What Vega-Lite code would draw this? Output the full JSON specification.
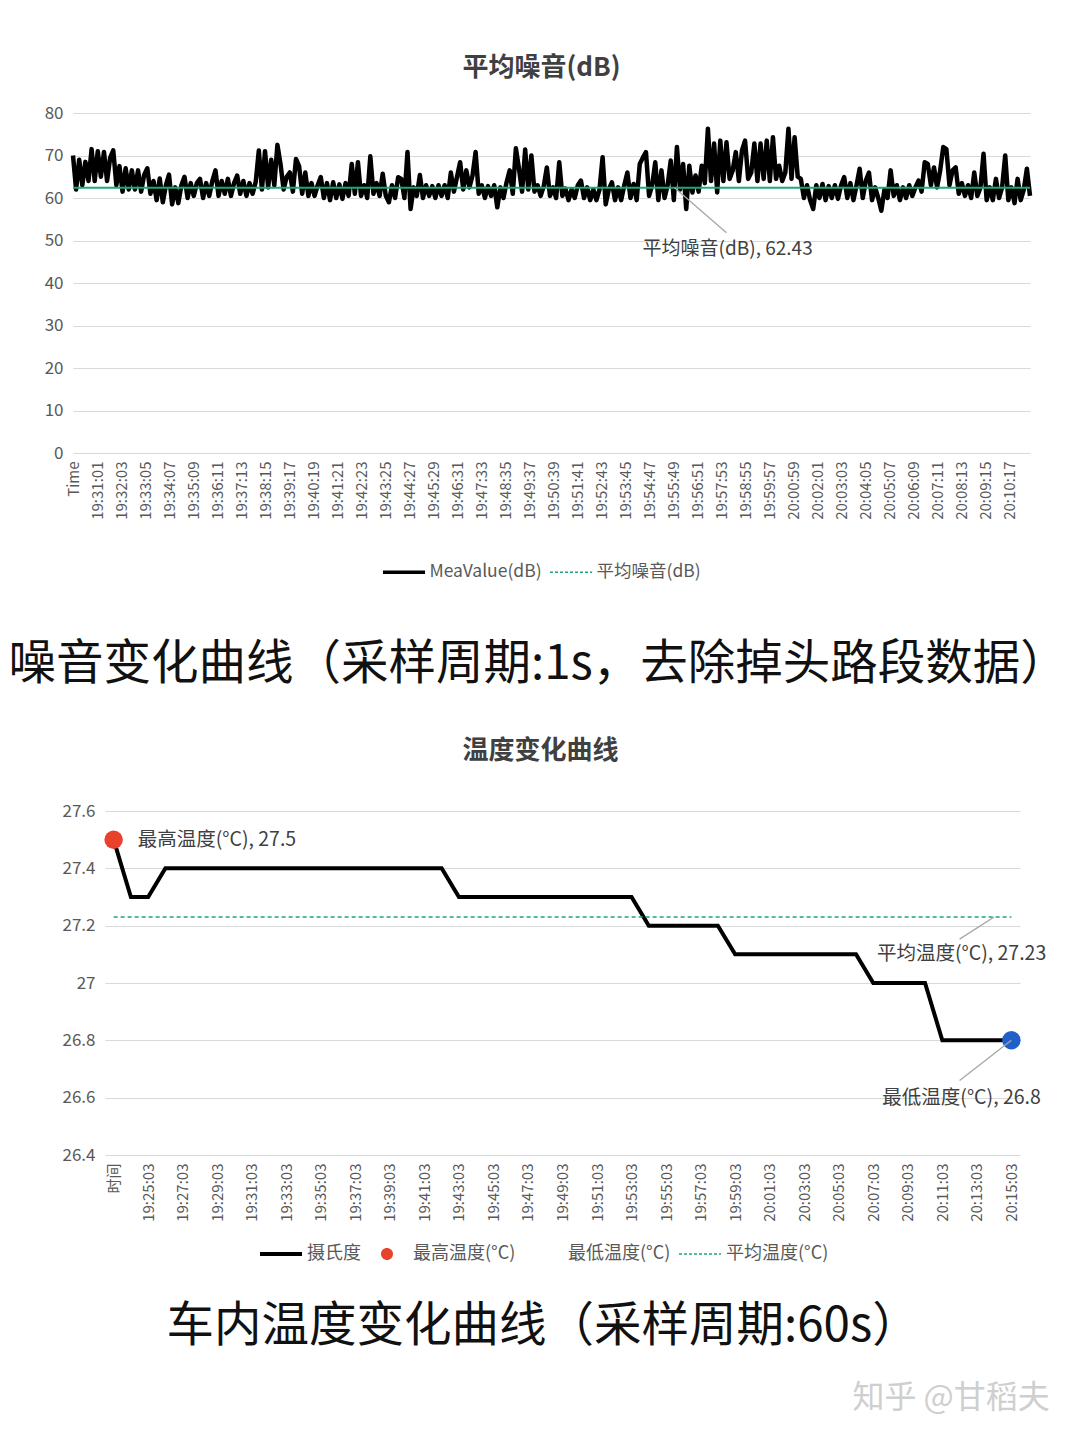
{
  "$schema": "https://vega.github.io/schema/vega-lite/v6.json",
  "background": "white",
  "padding": {"left": 8, "top": 55, "right": 10, "bottom": 10},
  "spacing": 49,
  "resolve": {"scale": {"color": "independent"}, "legend": {"color": "independent"}},
  "title": {"text": "知乎 @甘稻夫", "orient": "bottom", "anchor": "end", "fontSize": 32, "fontWeight": "normal", "color": "#cfcfcf", "offset": 32, "dx": -18},
  "datasets": {
    "noise": [
      {"s":0,"db":70},{"s":8,"db":62},{"s":16,"db":69},{"s":24,"db":63},{"s":32,"db":68.5},{"s":40,"db":64},{"s":48,"db":71.5},{"s":56,"db":64},{"s":64,"db":71},{"s":72,"db":65},
      {"s":80,"db":70.8},{"s":88,"db":64},{"s":96,"db":69.5},{"s":104,"db":71.2},{"s":112,"db":63},{"s":120,"db":67.5},{"s":128,"db":61.5},{"s":136,"db":67},{"s":144,"db":62},{"s":152,"db":66.5},
      {"s":160,"db":62},{"s":168,"db":66.5},{"s":176,"db":61.5},{"s":184,"db":65.5},{"s":192,"db":67},{"s":200,"db":61},{"s":208,"db":64},{"s":216,"db":59.5},{"s":224,"db":64.6},{"s":232,"db":59},
      {"s":240,"db":63},{"s":248,"db":65.5},{"s":256,"db":58.5},{"s":264,"db":62.5},{"s":272,"db":58.8},{"s":280,"db":63},{"s":288,"db":65},{"s":296,"db":60},{"s":304,"db":63.5},{"s":312,"db":60.5},
      {"s":320,"db":63.5},{"s":328,"db":64.5},{"s":336,"db":60},{"s":344,"db":63.5},{"s":352,"db":60.5},{"s":360,"db":64},{"s":368,"db":66.5},{"s":376,"db":60.5},{"s":384,"db":64},{"s":392,"db":61},
      {"s":400,"db":64.5},{"s":408,"db":60.5},{"s":416,"db":63.5},{"s":424,"db":65.3},{"s":432,"db":61},{"s":440,"db":64},{"s":448,"db":60.5},{"s":456,"db":63.5},{"s":464,"db":61},{"s":472,"db":63.8},
      {"s":480,"db":71.2},{"s":488,"db":62},{"s":496,"db":71},{"s":504,"db":62.5},{"s":512,"db":69},{"s":520,"db":63},{"s":528,"db":72.5},{"s":536,"db":68},{"s":544,"db":62},{"s":552,"db":65},
      {"s":560,"db":66},{"s":568,"db":61.5},{"s":576,"db":69.2},{"s":584,"db":67.5},{"s":592,"db":61},{"s":600,"db":66},{"s":608,"db":60.5},{"s":616,"db":63.5},{"s":624,"db":60.5},{"s":632,"db":63},
      {"s":640,"db":64.9},{"s":648,"db":60},{"s":656,"db":63.5},{"s":664,"db":59.5},{"s":672,"db":63.7},{"s":680,"db":60},{"s":688,"db":63.2},{"s":696,"db":59.8},{"s":704,"db":63.5},{"s":712,"db":60.5},
      {"s":720,"db":68},{"s":728,"db":61},{"s":736,"db":68.4},{"s":744,"db":60.5},{"s":752,"db":63},{"s":760,"db":60},{"s":768,"db":69.8},{"s":776,"db":61},{"s":784,"db":63.5},{"s":792,"db":60.5},
      {"s":800,"db":65.7},{"s":808,"db":60.5},{"s":816,"db":59},{"s":824,"db":63},{"s":832,"db":60},{"s":840,"db":64.9},{"s":848,"db":64.5},{"s":856,"db":60},{"s":864,"db":70.8},{"s":872,"db":57.4},
      {"s":880,"db":62.5},{"s":888,"db":60.5},{"s":896,"db":65.4},{"s":904,"db":60},{"s":912,"db":63},{"s":920,"db":60.5},{"s":928,"db":62.8},{"s":936,"db":60},{"s":944,"db":63},{"s":952,"db":60.5},
      {"s":960,"db":63},{"s":968,"db":60},{"s":976,"db":66},{"s":984,"db":61.5},{"s":992,"db":65},{"s":1000,"db":68.4},{"s":1008,"db":62},{"s":1016,"db":66.5},{"s":1024,"db":62.5},{"s":1032,"db":65.3},
      {"s":1040,"db":70.8},{"s":1048,"db":61},{"s":1056,"db":63},{"s":1064,"db":60},{"s":1072,"db":62.8},{"s":1080,"db":60.5},{"s":1088,"db":63},{"s":1096,"db":57.8},{"s":1104,"db":62.5},{"s":1112,"db":60},
      {"s":1120,"db":63.7},{"s":1128,"db":66.5},{"s":1136,"db":61},{"s":1144,"db":71.7},{"s":1152,"db":66.9},{"s":1160,"db":61.5},{"s":1168,"db":71.4},{"s":1176,"db":62},{"s":1184,"db":70},{"s":1192,"db":61.5},
      {"s":1200,"db":63},{"s":1208,"db":60.5},{"s":1216,"db":62.8},{"s":1224,"db":67.2},{"s":1232,"db":60.5},{"s":1240,"db":62.5},{"s":1248,"db":60},{"s":1256,"db":68.4},{"s":1264,"db":60.5},{"s":1272,"db":62.2},
      {"s":1280,"db":59.5},{"s":1288,"db":62},{"s":1296,"db":60},{"s":1304,"db":63},{"s":1312,"db":64.1},{"s":1320,"db":60},{"s":1328,"db":62.5},{"s":1336,"db":59.5},{"s":1344,"db":62},{"s":1352,"db":59.5},
      {"s":1360,"db":62},{"s":1368,"db":69.6},{"s":1376,"db":58.5},{"s":1384,"db":62},{"s":1392,"db":63.7},{"s":1400,"db":59.5},{"s":1408,"db":62.5},{"s":1416,"db":59.5},{"s":1424,"db":63},{"s":1432,"db":66},
      {"s":1440,"db":60},{"s":1448,"db":63.3},{"s":1456,"db":59.5},{"s":1464,"db":68},{"s":1472,"db":69.5},{"s":1480,"db":70.8},{"s":1488,"db":60.5},{"s":1496,"db":63},{"s":1504,"db":68.4},{"s":1512,"db":59.5},
      {"s":1520,"db":66.5},{"s":1528,"db":60},{"s":1536,"db":63},{"s":1544,"db":68.8},{"s":1552,"db":59.5},{"s":1560,"db":72},{"s":1568,"db":62},{"s":1576,"db":68},{"s":1584,"db":57.4},{"s":1592,"db":67.6},
      {"s":1600,"db":61.3},{"s":1608,"db":65.3},{"s":1616,"db":61.5},{"s":1624,"db":67.6},{"s":1632,"db":63.5},{"s":1640,"db":76.3},{"s":1648,"db":64},{"s":1656,"db":72.8},{"s":1664,"db":61.3},{"s":1672,"db":73.5},
      {"s":1680,"db":64},{"s":1688,"db":73.1},{"s":1696,"db":64.5},{"s":1704,"db":66.5},{"s":1712,"db":70.8},{"s":1720,"db":64},{"s":1728,"db":71.2},{"s":1736,"db":73.5},{"s":1744,"db":64.5},{"s":1752,"db":66},
      {"s":1760,"db":72.8},{"s":1768,"db":64},{"s":1776,"db":72.8},{"s":1784,"db":64.5},{"s":1792,"db":73.5},{"s":1800,"db":64},{"s":1808,"db":74.3},{"s":1816,"db":64.5},{"s":1824,"db":67.6},{"s":1832,"db":64},
      {"s":1840,"db":66},{"s":1848,"db":76.3},{"s":1856,"db":64.5},{"s":1864,"db":74.3},{"s":1872,"db":65},{"s":1880,"db":64.5},{"s":1888,"db":60},{"s":1896,"db":63},{"s":1904,"db":59.5},{"s":1912,"db":57.4},
      {"s":1920,"db":63},{"s":1928,"db":60},{"s":1936,"db":63.3},{"s":1944,"db":59.5},{"s":1952,"db":62.8},{"s":1960,"db":60},{"s":1968,"db":63},{"s":1976,"db":59.8},{"s":1984,"db":63},{"s":1992,"db":64.9},
      {"s":2000,"db":60},{"s":2008,"db":63.5},{"s":2016,"db":59.5},{"s":2024,"db":63},{"s":2032,"db":66.9},{"s":2040,"db":60},{"s":2048,"db":64.1},{"s":2056,"db":66},{"s":2064,"db":59.5},{"s":2072,"db":62.5},
      {"s":2080,"db":60},{"s":2088,"db":57},{"s":2096,"db":62},{"s":2104,"db":60},{"s":2112,"db":66.5},{"s":2120,"db":60.5},{"s":2128,"db":63},{"s":2136,"db":59.5},{"s":2144,"db":62.5},{"s":2152,"db":60},
      {"s":2160,"db":63},{"s":2168,"db":60.5},{"s":2176,"db":62.5},{"s":2184,"db":64.1},{"s":2192,"db":61.5},{"s":2200,"db":68.4},{"s":2208,"db":68},{"s":2216,"db":63},{"s":2224,"db":67.2},{"s":2232,"db":62.5},
      {"s":2240,"db":66.5},{"s":2248,"db":72},{"s":2256,"db":71.5},{"s":2264,"db":63},{"s":2272,"db":66.5},{"s":2280,"db":67.2},{"s":2288,"db":61},{"s":2296,"db":63.5},{"s":2304,"db":60.5},{"s":2312,"db":63},
      {"s":2320,"db":60},{"s":2328,"db":66},{"s":2336,"db":60.5},{"s":2344,"db":62.5},{"s":2352,"db":70.4},{"s":2360,"db":59.5},{"s":2368,"db":62.5},{"s":2376,"db":59.5},{"s":2384,"db":64.5},{"s":2392,"db":60},
      {"s":2400,"db":62.5},{"s":2408,"db":70},{"s":2416,"db":59.5},{"s":2424,"db":62.5},{"s":2432,"db":58.8},{"s":2440,"db":64.5},{"s":2448,"db":59.5},{"s":2456,"db":62},{"s":2464,"db":66.9},{"s":2472,"db":60.5}
    ],
    "temp": [
      {"time":"19:23:03","temp":27.5},{"time":"19:24:03","temp":27.3},{"time":"19:25:03","temp":27.3},{"time":"19:26:03","temp":27.4},
      {"time":"19:27:03","temp":27.4},{"time":"19:28:03","temp":27.4},{"time":"19:29:03","temp":27.4},{"time":"19:30:03","temp":27.4},
      {"time":"19:31:03","temp":27.4},{"time":"19:32:03","temp":27.4},{"time":"19:33:03","temp":27.4},{"time":"19:34:03","temp":27.4},
      {"time":"19:35:03","temp":27.4},{"time":"19:36:03","temp":27.4},{"time":"19:37:03","temp":27.4},{"time":"19:38:03","temp":27.4},
      {"time":"19:39:03","temp":27.4},{"time":"19:40:03","temp":27.4},{"time":"19:41:03","temp":27.4},{"time":"19:42:03","temp":27.4},
      {"time":"19:43:03","temp":27.3},{"time":"19:44:03","temp":27.3},{"time":"19:45:03","temp":27.3},{"time":"19:46:03","temp":27.3},
      {"time":"19:47:03","temp":27.3},{"time":"19:48:03","temp":27.3},{"time":"19:49:03","temp":27.3},{"time":"19:50:03","temp":27.3},
      {"time":"19:51:03","temp":27.3},{"time":"19:52:03","temp":27.3},{"time":"19:53:03","temp":27.3},{"time":"19:54:03","temp":27.2},
      {"time":"19:55:03","temp":27.2},{"time":"19:56:03","temp":27.2},{"time":"19:57:03","temp":27.2},{"time":"19:58:03","temp":27.2},
      {"time":"19:59:03","temp":27.1},{"time":"20:00:03","temp":27.1},{"time":"20:01:03","temp":27.1},{"time":"20:02:03","temp":27.1},
      {"time":"20:03:03","temp":27.1},{"time":"20:04:03","temp":27.1},{"time":"20:05:03","temp":27.1},{"time":"20:06:03","temp":27.1},
      {"time":"20:07:03","temp":27.0},{"time":"20:08:03","temp":27.0},{"time":"20:09:03","temp":27.0},{"time":"20:10:03","temp":27.0},
      {"time":"20:11:03","temp":26.8},{"time":"20:12:03","temp":26.8},{"time":"20:13:03","temp":26.8},{"time":"20:14:03","temp":26.8},
      {"time":"20:15:03","temp":26.8}
    ]
  },
  "config": {
    "font": "Noto Sans CJK SC",
    "view": {"stroke": null},
    "axis": {"labelColor": "#595959", "labelFont": "Noto Sans CJK SC", "domain": false, "ticks": false, "gridColor": "#d9d9d9", "gridWidth": 1.2},
    "axisX": {"grid": false, "labelAngle": -90, "labelFontSize": 15, "labelPadding": 8, "labelOverlap": false, "labelFlush": false, "labelBound": false},
    "axisY": {"grid": true, "labelFontSize": 17, "labelPadding": 10},
    "legend": {"orient": "none", "direction": "horizontal", "labelFontSize": 17.5, "labelColor": "#595959", "labelFont": "Noto Sans CJK SC", "symbolType": "stroke", "symbolSize": 1764, "symbolStrokeWidth": 3.5, "labelOffset": 29, "columnPadding": 5},
    "title": {"font": "Noto Sans CJK SC"}
  },
  "vconcat": [
    {
      "title": {"text": "噪音变化曲线（采样周期:1s，去除掉头路段数据）", "orient": "bottom", "anchor": "middle", "fontSize": 47.5, "fontWeight": "normal", "color": "#111111", "offset": 60},
      "vconcat": [
        {
          "title": {"text": "平均噪音(dB)", "fontSize": 26, "fontWeight": "bold", "color": "#404040", "offset": 23, "dx": -10},
          "width": 957,
          "height": 340,
          "layer": [
            {
              "data": {"name": "noise"},
              "mark": {"type": "line", "strokeWidth": 4.5, "strokeJoin": "round"},
              "encoding": {
                "x": {"field": "s", "type": "quantitative", "title": null, "scale": {"domain": [0, 2472], "nice": false, "zero": false},
                  "axis": {"values": [0,62,124,186,248,310,372,434,496,558,620,682,744,806,868,930,992,1054,1116,1178,1240,1302,1364,1426,1488,1550,1612,1674,1736,1798,1860,1922,1984,2046,2108,2170,2232,2294,2356,2418],
                    "tickCount": 60, "labelOverlap": false,
                    "labelExpr": "datum.value == 0 ? 'Time' : utcFormat((70199 + datum.value) * 1000, '%H:%M:%S')"}},
                "y": {"field": "db", "type": "quantitative", "title": null, "scale": {"domain": [0, 80], "nice": false}, "axis": {"values": [0,10,20,30,40,50,60,70,80]}},
                "color": {"datum": "MeaValue(dB)", "scale": {"domain": ["MeaValue(dB)", "平均噪音(dB)"], "range": ["#000000", "#1fa774"]},
                  "legend": {"title": null, "orient": "none", "legendX": 310, "legendY": 450, "symbolSize": 1764,
                    "encode": {"symbols": {"update": {
                      "x": {"value": 21},
                      "shape": {"value": "stroke"},
                      "size": {"value": 1764},
                      "fill": {"value": "transparent"},
                      "opacity": {"value": 1},
                      "stroke": {"signal": "datum.value == '平均噪音(dB)' ? '#1fa774' : '#000000'"},
                      "strokeDash": {"signal": "datum.value == '平均噪音(dB)' ? [3, 2] : [1, 0]"},
                      "strokeWidth": {"signal": "datum.value == '平均噪音(dB)' ? 1.5 : 3.5"}
                    }}}}}
              }
            },
            {
              "data": {"values": [{"from": 0, "to": 2472, "avg": 62.43}]},
              "mark": {"type": "rule", "strokeWidth": 2},
              "encoding": {
                "x": {"field": "from", "type": "quantitative", "title": null},
                "x2": {"field": "to"},
                "y": {"field": "avg", "type": "quantitative", "title": null},
                "color": {"datum": "平均噪音(dB)"}
              }
            },
            {
              "data": {"values": [{"s0": 1554, "v0": 62.43, "s1": 1688, "v1": 51.8}]},
              "mark": {"type": "rule", "color": "#a6a6a6", "strokeWidth": 1.3},
              "encoding": {
                "x": {"field": "s0", "type": "quantitative", "title": null},
                "x2": {"field": "s1"},
                "y": {"field": "v0", "type": "quantitative", "title": null},
                "y2": {"field": "v1"}
              }
            },
            {
              "data": {"values": [{"s": 1691, "v": 48, "label": "平均噪音(dB), 62.43"}]},
              "mark": {"type": "text", "fontSize": 19, "color": "#404040"},
              "encoding": {
                "x": {"field": "s", "type": "quantitative", "title": null},
                "y": {"field": "v", "type": "quantitative", "title": null},
                "text": {"field": "label"}
              }
            }
          ]
        }
      ]
    },
    {
      "title": {"text": "车内温度变化曲线（采样周期:60s）", "orient": "bottom", "anchor": "middle", "fontSize": 47.5, "fontWeight": "normal", "color": "#111111", "offset": 40, "dx": -11},
      "vconcat": [
        {
          "title": {"text": "温度变化曲线", "fontSize": 26, "fontWeight": "bold", "color": "#404040", "offset": 38, "dx": -6},
          "width": 947,
          "height": 344,
          "layer": [
            {
              "data": {"name": "temp"},
              "mark": {"type": "line", "strokeWidth": 4},
              "encoding": {
                "x": {"field": "time", "type": "ordinal", "title": null, "scale": {"type": "point", "padding": 0.5, "range": [32, 947]},
                  "axis": {"values": ["19:23:03","19:25:03","19:27:03","19:29:03","19:31:03","19:33:03","19:35:03","19:37:03","19:39:03","19:41:03","19:43:03","19:45:03","19:47:03","19:49:03","19:51:03","19:53:03","19:55:03","19:57:03","19:59:03","20:01:03","20:03:03","20:05:03","20:07:03","20:09:03","20:11:03","20:13:03","20:15:03"],
                    "labelExpr": "datum.value == '19:23:03' ? '时间' : datum.value"}},
                "y": {"field": "temp", "type": "quantitative", "title": null, "scale": {"domain": [26.4, 27.6], "nice": false, "zero": false},
                  "axis": {"values": [26.4, 26.6, 26.8, 27, 27.2, 27.4, 27.6], "format": ".4~g", "offset": -32}},
                "color": {"datum": "摄氏度", "scale": {"domain": ["摄氏度", "最高温度(°C)", "最低温度(°C)", "平均温度(°C)"], "range": ["#000000", "#e8412c", "#1f5fc8", "#1fa774"]},
                  "legend": {"title": null, "orient": "none", "legendX": 187, "legendY": 434, "symbolSize": 1764, "labelFontSize": 18,
                    "encode": {"symbols": {"update": {
                      "x": {"value": 21},
                      "opacity": {"value": 1},
                      "shape": {"signal": "datum.value == '最高温度(°C)' || datum.value == '最低温度(°C)' ? 'circle' : 'stroke'"},
                      "size": {"signal": "datum.value == '最高温度(°C)' ? 110 : datum.value == '最低温度(°C)' ? 0 : 1764"},
                      "fill": {"signal": "datum.value == '最高温度(°C)' ? '#e8412c' : 'transparent'"},
                      "stroke": {"signal": "datum.value == '摄氏度' ? '#000000' : datum.value == '平均温度(°C)' ? '#1fa774' : 'transparent'"},
                      "strokeDash": {"signal": "datum.value == '平均温度(°C)' ? [3, 2] : [1, 0]"},
                      "strokeWidth": {"signal": "datum.value == '摄氏度' ? 4 : 1.5"}
                    }}}}}
              }
            },
            {
              "data": {"values": [{"from": "19:23:03", "to": "20:15:03", "avg": 27.23}]},
              "mark": {"type": "rule", "strokeWidth": 1.5, "strokeDash": [4, 3]},
              "encoding": {
                "x": {"field": "from", "type": "ordinal", "title": null},
                "x2": {"field": "to"},
                "y": {"field": "avg", "type": "quantitative", "title": null},
                "color": {"datum": "平均温度(°C)"}
              }
            },
            {
              "data": {"name": "temp"},
              "transform": [{"filter": "datum.time == '19:23:03'"}],
              "mark": {"type": "circle", "size": 340, "opacity": 1},
              "encoding": {
                "x": {"field": "time", "type": "ordinal", "title": null},
                "y": {"field": "temp", "type": "quantitative", "title": null},
                "color": {"datum": "最高温度(°C)"}
              }
            },
            {
              "data": {"name": "temp"},
              "transform": [{"filter": "datum.time == '20:15:03'"}],
              "mark": {"type": "circle", "size": 340, "opacity": 1},
              "encoding": {
                "x": {"field": "time", "type": "ordinal", "title": null},
                "y": {"field": "temp", "type": "quantitative", "title": null},
                "color": {"datum": "最低温度(°C)"}
              }
            },
            {
              "data": {"values": [
                {"t0": "20:14:03", "v0": 27.23, "t1": "20:12:03", "v1": 27.153},
                {"t0": "20:15:03", "v0": 26.8, "t1": "20:12:03", "v1": 26.66}
              ]},
              "mark": {"type": "rule", "color": "#a6a6a6", "strokeWidth": 1.3},
              "encoding": {
                "x": {"field": "t0", "type": "ordinal", "title": null},
                "x2": {"field": "t1"},
                "y": {"field": "v0", "type": "quantitative", "title": null},
                "y2": {"field": "v1"}
              }
            },
            {
              "data": {"values": [{"time": "19:23:03", "y": 27.5, "label": "最高温度(°C), 27.5"}]},
              "mark": {"type": "text", "fontSize": 19.5, "color": "#404040", "align": "left", "dx": 24},
              "encoding": {
                "x": {"field": "time", "type": "ordinal", "title": null},
                "y": {"field": "y", "type": "quantitative", "title": null},
                "text": {"field": "label"}
              }
            },
            {
              "data": {"values": [
                {"time": "20:12:03", "y": 27.1, "label": "平均温度(°C), 27.23"},
                {"time": "20:12:03", "y": 26.6, "label": "最低温度(°C), 26.8"}
              ]},
              "mark": {"type": "text", "fontSize": 19.5, "color": "#404040", "dx": 2},
              "encoding": {
                "x": {"field": "time", "type": "ordinal", "title": null},
                "y": {"field": "y", "type": "quantitative", "title": null},
                "text": {"field": "label"}
              }
            }
          ]
        }
      ]
    }
  ]
}
